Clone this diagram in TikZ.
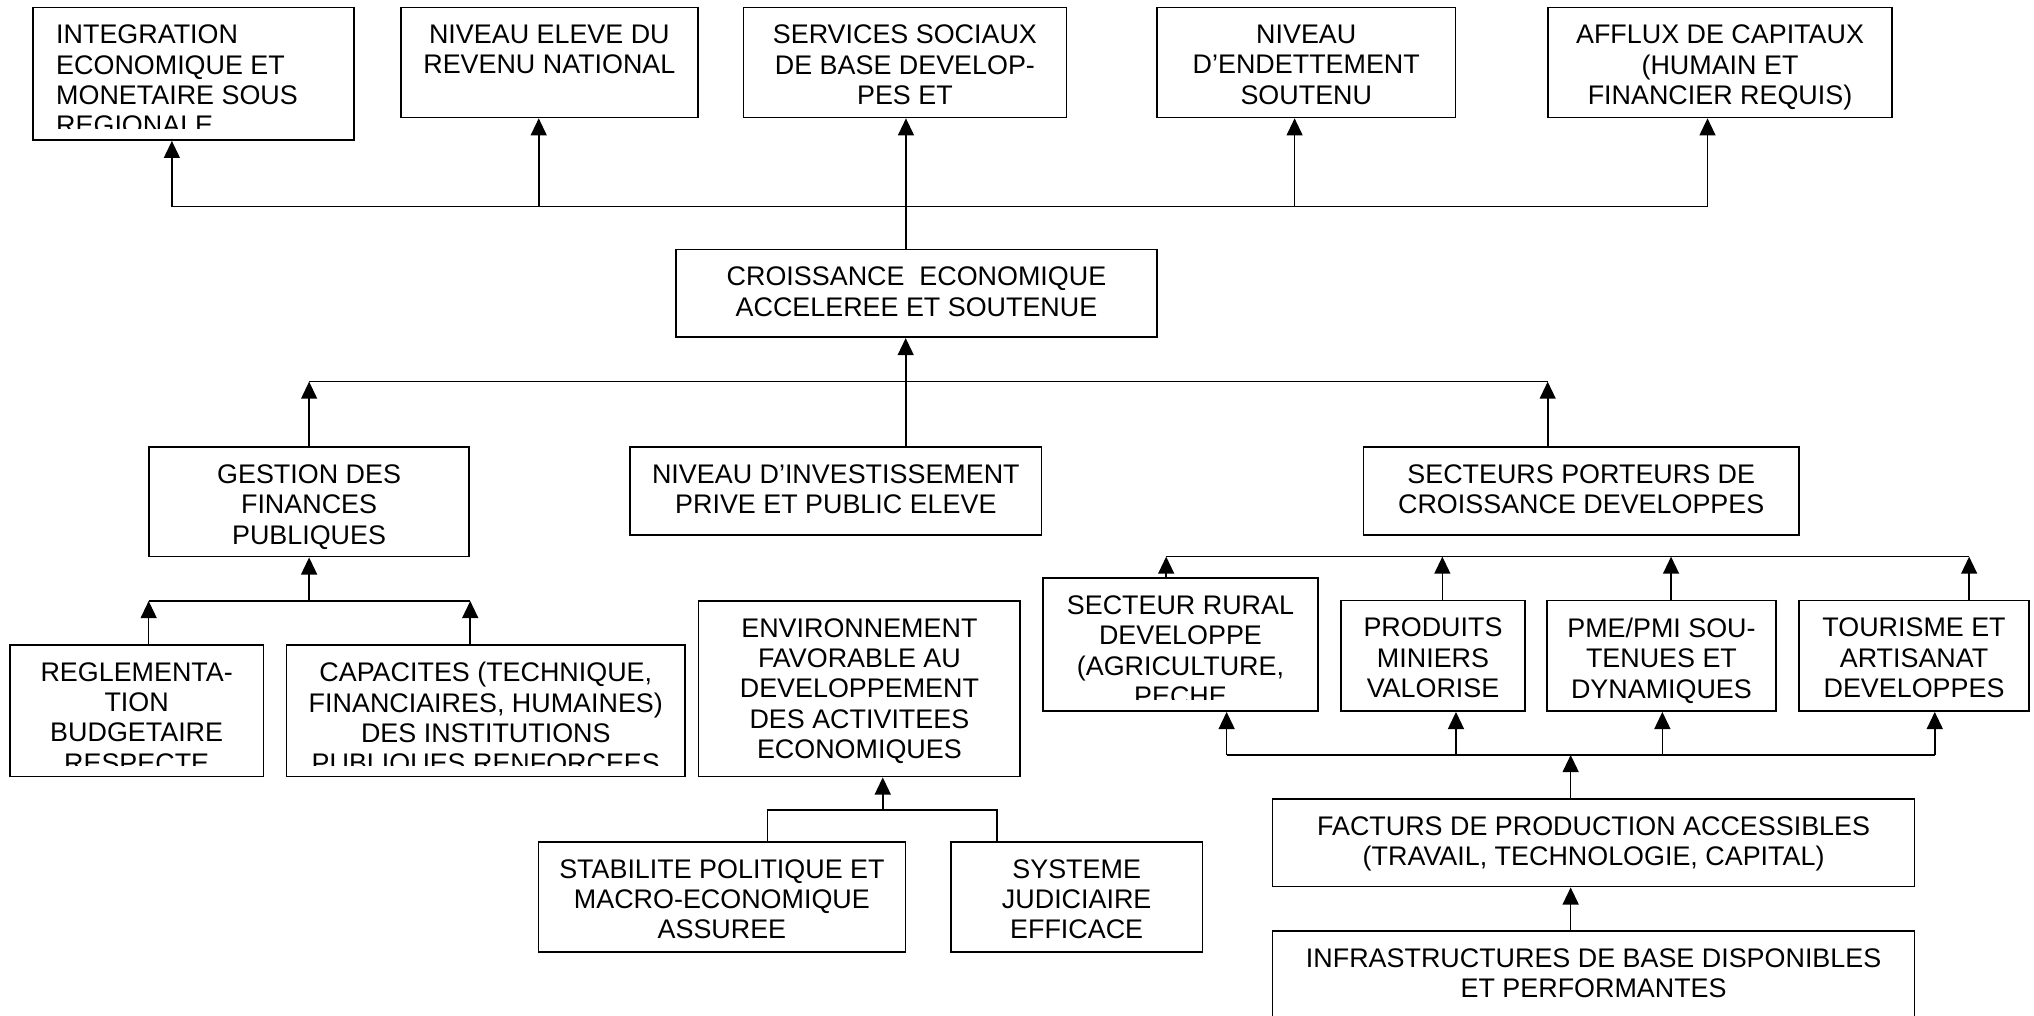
\documentclass[tikz,border=0pt]{standalone}
\usepackage{fontspec}
\setmainfont{Liberation Sans}
\usetikzlibrary{arrows.meta,fit}

\tikzset{
  boxst/.style={draw, line width=0.7pt, inner sep=0pt},
  txt/.style={font=\fontsize{11.8}{13.3}\selectfont, align=center, inner sep=0pt},
  ln/.style={line width=0.7pt},
  arr/.style={line width=0.7pt, -{Triangle[length=7.5pt,width=7pt]}},
}

% #1 name, #2 x1, #3 y1, #4 x2, #5 y2, #6 lower limit of the text, #7 text
\newcommand{\flowbox}[7]{%
  \node[boxst, fit={(#2,#3) (#4,#5)}] (#1) {};
  \begin{scope}
    \clip (#2,#3) rectangle (#4,#6);
    \node[txt, anchor=north] (#1t) at ({(#2+#4)/2},{#3+13.2}) {#7};
  \end{scope}}

\begin{document}
\begin{tikzpicture}[x=0.02cm, y=-0.02cm]
\useasboundingbox (0,0) rectangle (1568,782.46);
\fill[white] (0,0) rectangle (1568,782.46);
\clip (0,0) rectangle (1568,782.46);

% ---- top row: outcomes
\node[boxst, fit={(25.4,5.7) (273,108)}] (b1) {};
\begin{scope}
  \clip (25.4,5.7) rectangle (273,99);
  \node[txt, align=left, anchor=north west] (b1t) at (43,18.9)
    {INTEGRATION\\ECONOMIQUE ET\\MONETAIRE SOUS\\REGIONALE};
\end{scope}
\flowbox{b2}{309}{5.7}{538}{90.6}{90.6}{NIVEAU ELEVE DU\\REVENU NATIONAL}
\flowbox{b3}{573.2}{5.7}{822}{90.6}{90.6}{SERVICES SOCIAUX\\DE BASE DEVELOP-\\PES ET}
\flowbox{b4}{892}{5.7}{1122}{90.6}{90.6}{NIVEAU\\D’ENDETTEMENT\\SOUTENU}
\flowbox{b5}{1193.4}{5.7}{1458.5}{90.6}{90.6}{AFFLUX DE CAPITAUX\\(HUMAIN ET\\FINANCIER REQUIS)}

% ---- central goal
\flowbox{cro}{521}{192.2}{892}{260}{260}{CROISSANCE\ \ ECONOMIQUE\\ACCELEREE ET SOUTENUE}

% ---- second level
\flowbox{gest}{115}{344.8}{361.5}{429.1}{429.1}{GESTION DES\\FINANCES\\PUBLIQUES}
\flowbox{ninv}{485.7}{344.8}{803}{412.4}{412.4}{NIVEAU D’INVESTISSEMENT\\PRIVE ET PUBLIC ELEVE}
\flowbox{sect}{1051}{344.8}{1386.9}{412.4}{412.4}{SECTEURS PORTEURS DE\\CROISSANCE DEVELOPPES}

% ---- public finance branch
\flowbox{regl}{7.7}{497}{203}{598.7}{590}{REGLEMENTA-\\TION\\BUDGETAIRE\\RESPECTE}
\flowbox{capa}{221}{497}{528}{598.7}{590}{CAPACITES (TECHNIQUE,\\FINANCIAIRES, HUMAINES)\\DES INSTITUTIONS\\PUBLIQUES RENFORCEES}

% ---- enabling environment branch
\flowbox{env}{538.6}{463.3}{786.4}{598.7}{598.7}{ENVIRONNEMENT\\FAVORABLE AU\\DEVELOPPEMENT\\DES ACTIVITEES\\ECONOMIQUES}
\flowbox{stab}{415}{649}{698}{734}{734}{STABILITE POLITIQUE ET\\MACRO-ECONOMIQUE\\ASSUREE}
\flowbox{sys}{733}{649}{927}{734}{734}{SYSTEME\\JUDICIAIRE\\EFFICACE}

% ---- growth sectors
\flowbox{rur}{804}{445.6}{1016}{548.2}{539}{SECTEUR RURAL\\DEVELOPPE\\(AGRICULTURE,\\PECHE}
\flowbox{prod}{1033.8}{463}{1175.6}{548.2}{548.2}{PRODUITS\\MINIERS\\VALORISE}
\flowbox{pme}{1192.6}{463}{1369}{548.2}{548.2}{PME/PMI SOU-\\TENUES ET\\DYNAMIQUES}
\flowbox{tour}{1387}{463}{1564}{548.2}{548.2}{TOURISME ET\\ARTISANAT\\DEVELOPPES}

% ---- production factors and infrastructure
\flowbox{fact}{981}{616}{1476}{683.5}{683.5}{FACTURS DE PRODUCTION ACCESSIBLES\\(TRAVAIL, TECHNOLOGIE, CAPITAL)}
\flowbox{infra}{981}{717.5}{1476}{800}{800}{INFRASTRUCTURES DE BASE DISPONIBLES\\ET PERFORMANTES}

% ---- junction points
\coordinate (t1) at (132.5,159.3);
\coordinate (t2) at (415.3,159.3);
\coordinate (t3) at (698.4,159.3);
\coordinate (t4) at (998,159.3);
\coordinate (t5) at (1316.3,159.3);

\coordinate (g1) at (238.3,294.2);
\coordinate (c1) at (698.2,294.2);
\coordinate (s1) at (1193.1,294.2);

\coordinate (h0) at (238.3,463.3);
\coordinate (h1) at (114.6,463.3);
\coordinate (h2) at (362.5,463.3);

\coordinate (e0) at (680.5,624.4);
\coordinate (e1) at (591.8,624.4);
\coordinate (e2) at (768.8,624.4);

\coordinate (u1) at (899,429.1);
\coordinate (u2) at (1111.9,429.1);
\coordinate (u3) at (1288.2,429.1);
\coordinate (u4) at (1518,429.1);

\coordinate (l0) at (1210.8,582);
\coordinate (l1) at (945.6,582);
\coordinate (l2) at (1122.4,582);
\coordinate (l3) at (1281.5,582);
\coordinate (l4) at (1491.5,582);

% ---- growth feeds the outcomes
\draw[ln] (t1) -- (t5);
\draw[ln] (t3 |- cro.north) -- (t3);
\draw[arr] (t1) -- (t1 |- b1.south);
\draw[arr] (t2) -- (t2 |- b2.south);
\draw[arr] (t3) -- (t3 |- b3.south);
\draw[arr] (t4) -- (t4 |- b4.south);
\draw[arr] (t5) -- (t5 |- b5.south);

% ---- second level feeds growth
\draw[ln] (g1) -- (s1);
\draw[arr] (c1 |- ninv.north) -- (c1 |- cro.south);
\draw[arr] (g1 |- gest.north) -- (g1);
\draw[arr] (s1 |- sect.north) -- (s1);

% ---- public finance
\draw[arr] (h0) -- (h0 |- gest.south);
\draw[ln] (h1) -- (h2);
\draw[arr] (h1 |- regl.north) -- (h1);
\draw[arr] (h2 |- capa.north) -- (h2);

% ---- enabling environment
\draw[arr] (e0) -- (e0 |- env.south);
\draw[ln] (e1 |- stab.north) -- (e1) -- (e2) -- (e2 |- sys.north);

% ---- growth sectors
\draw[ln] (u1) -- (u4);
\draw[arr] (u1 |- rur.north) -- (u1);
\draw[arr] (u2 |- prod.north) -- (u2);
\draw[arr] (u3 |- pme.north) -- (u3);
\draw[arr] (u4 |- tour.north) -- (u4);

\draw[ln] (l1) -- (l4);
\draw[arr] (l1) -- (l1 |- rur.south);
\draw[arr] (l2) -- (l2 |- prod.south);
\draw[arr] (l3) -- (l3 |- pme.south);
\draw[arr] (l4) -- (l4 |- tour.south);
\draw[arr] (l0 |- fact.north) -- (l0);
\draw[arr] (l0 |- infra.north) -- (l0 |- fact.south);
\end{tikzpicture}
\end{document}
